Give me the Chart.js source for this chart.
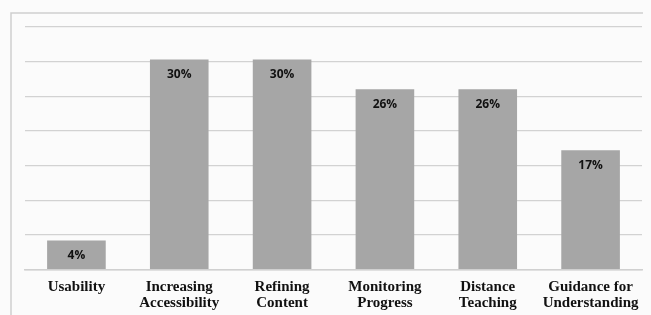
<!DOCTYPE html>
<html>
<head>
<meta charset="utf-8">
<script src="https://cdn.jsdelivr.net/npm/chart.js@4"></script>
<style>
  html, body { margin: 0; padding: 0; background: #fbfbfb; }
  #wrap { width: 651px; height: 315px; }
</style>
</head>
<body>
<div id="wrap"><canvas id="grafico" width="651" height="315"></canvas></div>
<script>
  const categorias = [
    ["Usability"],
    ["Increasing", "Accessibility"],
    ["Refining", "Content"],
    ["Monitoring", "Progress"],
    ["Distance", "Teaching"],
    ["Guidance for", "Understanding"]
  ];
  const valores = [4.2, 30.3, 30.3, 26, 26, 17.2];
  const rotulos = ["4%", "30%", "30%", "26%", "26%", "17%"];
  const ticksY = [0, 5, 10, 15, 20, 25, 30, 35];

  // moldura e rótulos das barras
  const moldura = {
    id: "moldura",
    beforeDraw(chart) {
      const ctx = chart.ctx;
      ctx.save();
      ctx.strokeStyle = "#cfcfcf";
      ctx.lineWidth = 1.5;
      ctx.beginPath();
      ctx.moveTo(11, 315);
      ctx.lineTo(11, 13);
      ctx.lineTo(643, 13);
      ctx.stroke();
      ctx.restore();
    }
  };

  const rotulosBarras = {
    id: "rotulosBarras",
    afterDatasetsDraw(chart) {
      const ctx = chart.ctx;
      const meta = chart.getDatasetMeta(0);
      ctx.save();
      ctx.fillStyle = "#111";
      ctx.font = "bold 12px 'Open Sans', sans-serif";
      ctx.textAlign = "center";
      ctx.textBaseline = "middle";
      meta.data.forEach((barra, i) => {
        ctx.fillText(rotulos[i], barra.x, barra.y + 15);
      });
      ctx.restore();
    }
  };

  new Chart(document.getElementById("grafico"), {
    type: "bar",
    data: {
      labels: categorias,
      datasets: [{
        data: valores,
        backgroundColor: "#a6a6a6",
        barPercentage: 0.57,
        categoryPercentage: 1
      }]
    },
    options: {
      responsive: false,
      animation: false,
      layout: { padding: { left: 25, right: 9, top: 27, bottom: 2 } },
      plugins: {
        legend: { display: false },
        tooltip: { enabled: false }
      },
      scales: {
        x: {
          grid: { display: false },
          border: { display: true, color: "#d0d0d0", width: 1.5 },
          ticks: {
            color: "#111",
            font: { family: "'Liberation Serif', serif", size: 15, weight: "bold", lineHeight: 1.05 },
            maxRotation: 0,
            padding: 2
          }
        },
        y: {
          min: 0,
          max: 35,
          afterBuildTicks: axis => { axis.ticks = ticksY.map(v => ({ value: v })); },
          grid: { color: "#d2d2d2", lineWidth: 1.2, drawTicks: false },
          border: { display: false },
          ticks: { display: false }
        }
      }
    },
    plugins: [moldura, rotulosBarras]
  });
</script>
</body>
</html>
